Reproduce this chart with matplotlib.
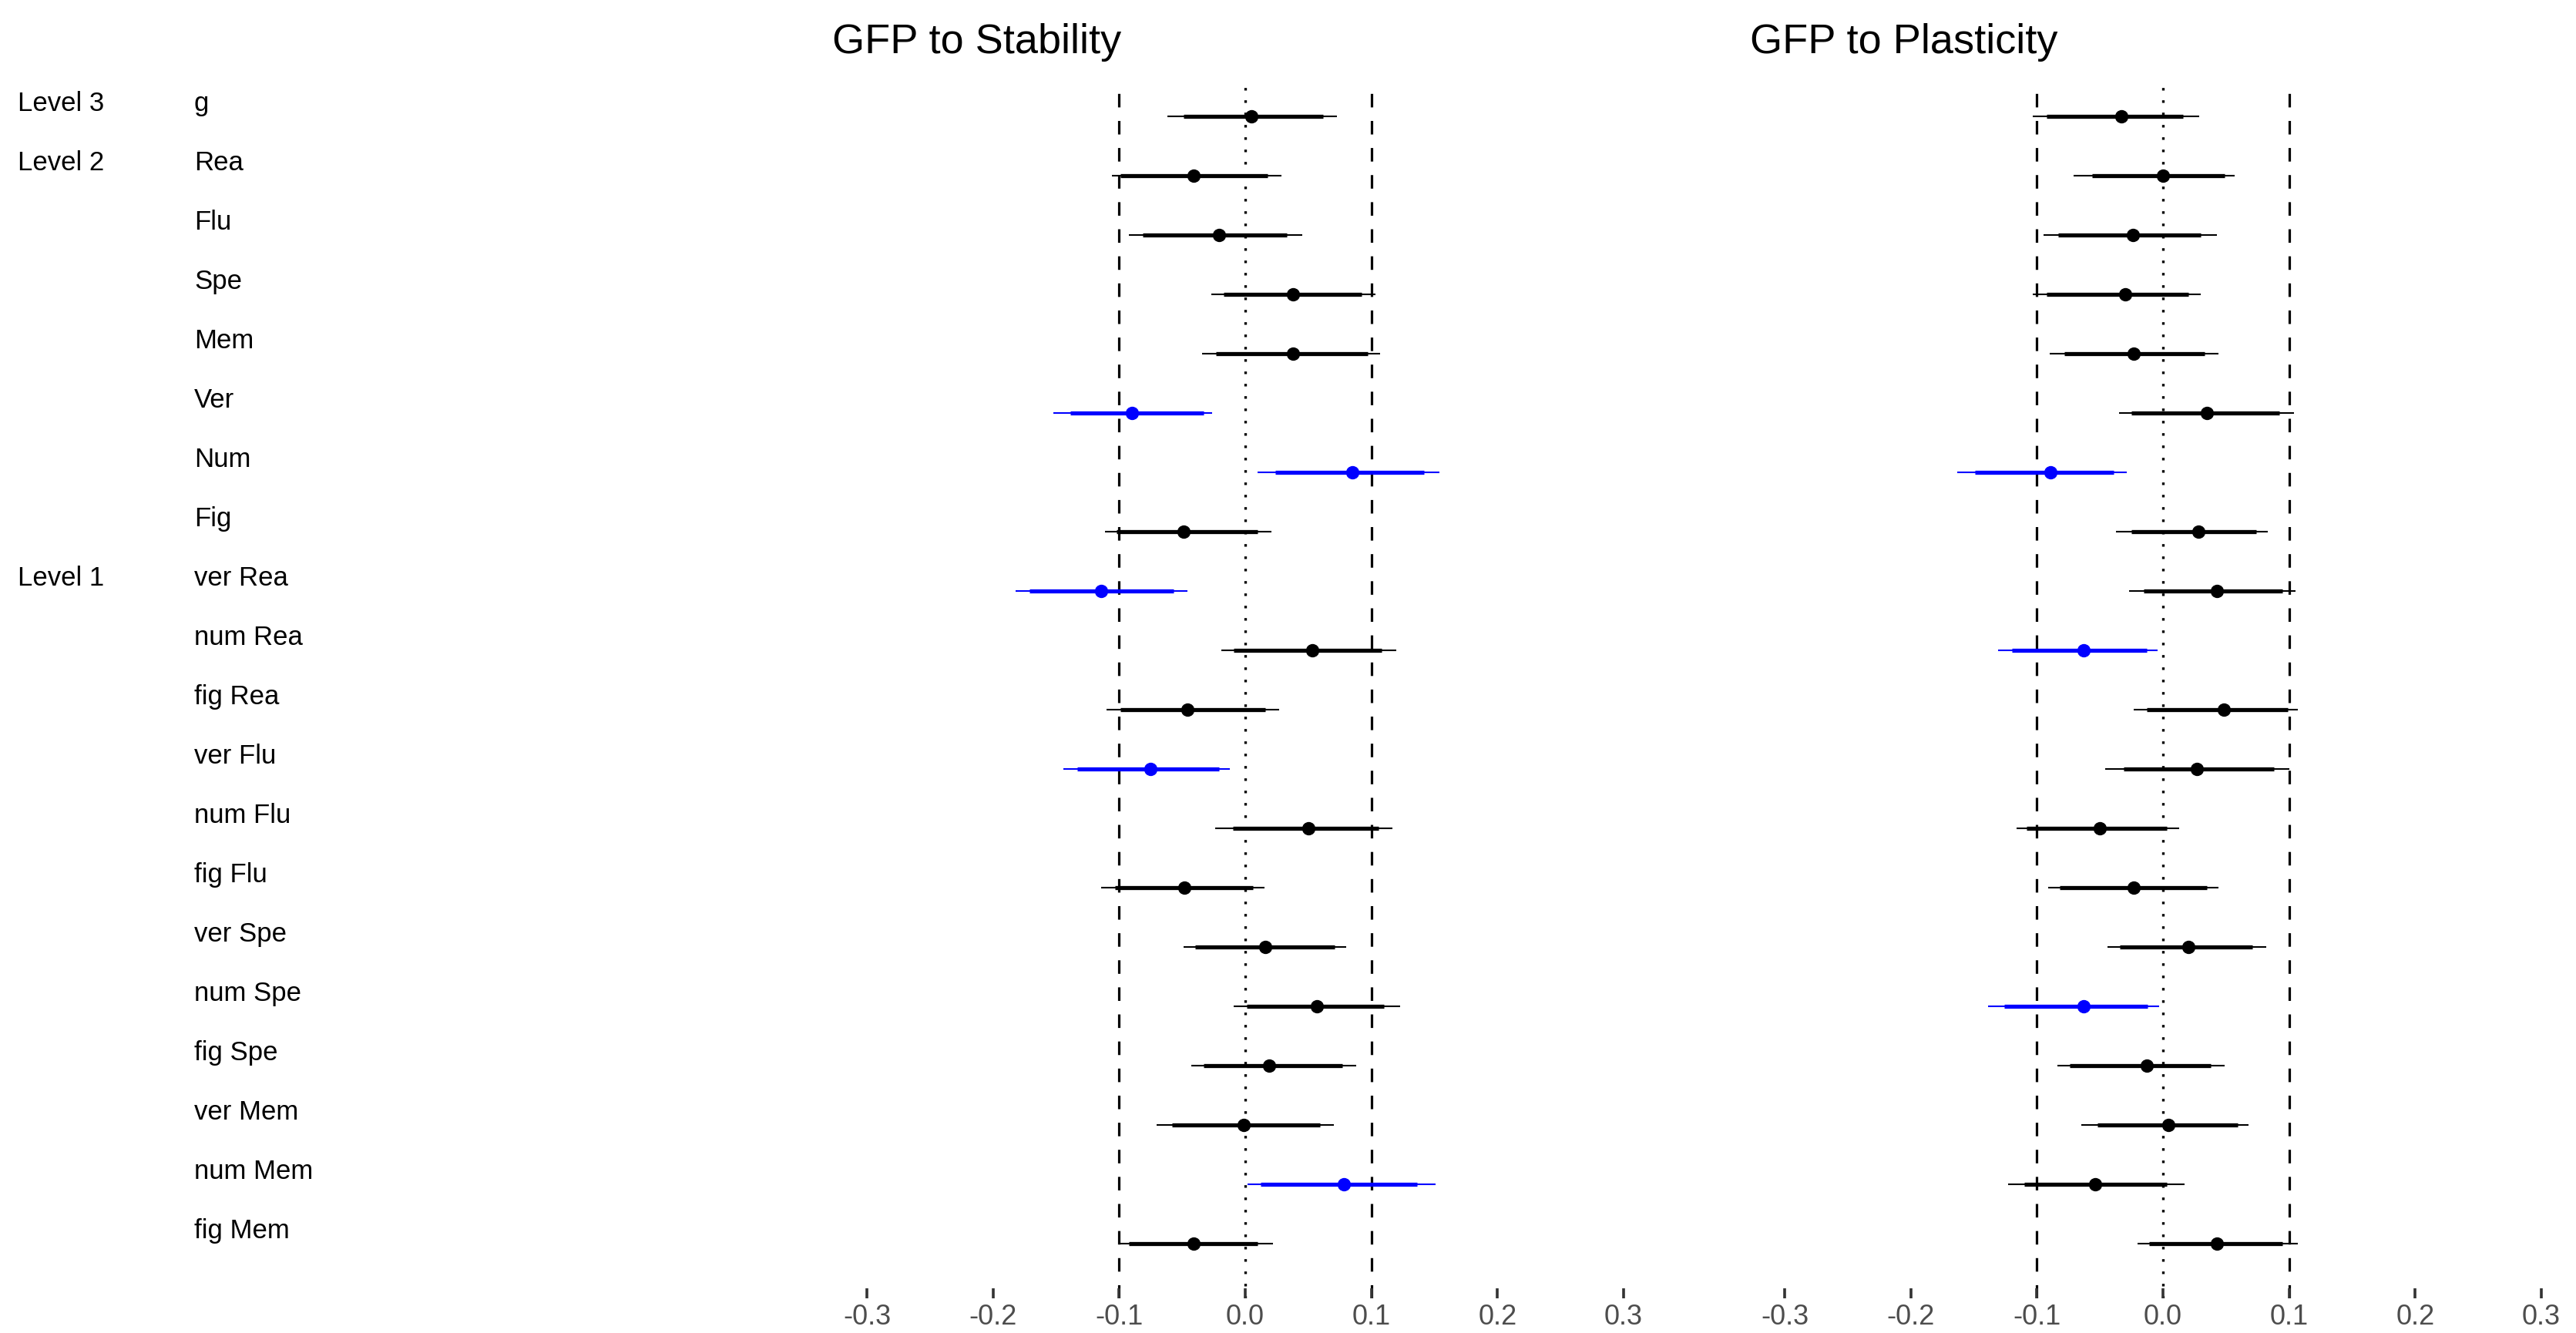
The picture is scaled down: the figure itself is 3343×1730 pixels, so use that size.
import matplotlib
matplotlib.use('Agg')
import matplotlib.pyplot as plt
from matplotlib.transforms import blended_transform_factory, ScaledTranslation

plt.rcParams['font.family'] = ['Liberation Sans', 'DejaVu Sans']

# rows, top to bottom
names = ['g', 'Rea', 'Flu', 'Spe', 'Mem', 'Ver', 'Num', 'Fig',
         'ver Rea', 'num Rea', 'fig Rea', 'ver Flu', 'num Flu', 'fig Flu',
         'ver Spe', 'num Spe', 'fig Spe', 'ver Mem', 'num Mem', 'fig Mem']
level_labels = {0: 'Level 3', 1: 'Level 2', 8: 'Level 1'}
ticks = [-0.3, -0.2, -0.1, 0.0, 0.1, 0.2, 0.3]
tick_labels = ['-0.3', '-0.2', '-0.1', '0.0', '0.1', '0.2', '0.3']

# GFP to Stability
stab_est = [0.005, -0.041, -0.021, 0.038, 0.038, -0.090, 0.085, -0.049, -0.114, 0.053,
            -0.046, -0.075, 0.050, -0.048, 0.016, 0.057, 0.019, -0.001, 0.078, -0.041]
stab_lo95 = [-0.062, -0.106, -0.092, -0.027, -0.034, -0.152, 0.010, -0.111, -0.182, -0.019,
             -0.110, -0.144, -0.024, -0.114, -0.049, -0.009, -0.043, -0.070, 0.002, -0.100]
stab_hi95 = [0.073, 0.029, 0.045, 0.103, 0.107, -0.026, 0.154, 0.021, -0.046, 0.120,
             0.027, -0.012, 0.117, 0.015, 0.080, 0.123, 0.088, 0.070, 0.151, 0.022]
stab_lo_in = [-0.049, -0.099, -0.081, -0.017, -0.023, -0.139, 0.024, -0.102, -0.171, -0.009,
              -0.099, -0.133, -0.010, -0.103, -0.040, 0.001, -0.033, -0.058, 0.012, -0.092]
stab_hi_in = [0.062, 0.018, 0.033, 0.092, 0.097, -0.033, 0.142, 0.010, -0.057, 0.108,
              0.016, -0.021, 0.106, 0.006, 0.071, 0.110, 0.077, 0.059, 0.136, 0.010]

# GFP to Plasticity
plas_est = [-0.033, 0.000, -0.024, -0.030, -0.023, 0.035, -0.089, 0.028, 0.043, -0.063,
            0.048, 0.027, -0.050, -0.023, 0.020, -0.063, -0.013, 0.004, -0.054, 0.043]
plas_lo95 = [-0.103, -0.071, -0.095, -0.103, -0.090, -0.035, -0.163, -0.037, -0.027, -0.131,
             -0.023, -0.046, -0.116, -0.091, -0.044, -0.139, -0.084, -0.065, -0.123, -0.020]
plas_hi95 = [0.029, 0.057, 0.043, 0.030, 0.044, 0.104, -0.029, 0.083, 0.105, -0.004,
             0.107, 0.100, 0.013, 0.044, 0.082, -0.003, 0.049, 0.068, 0.017, 0.107]
plas_lo_in = [-0.092, -0.056, -0.083, -0.092, -0.078, -0.025, -0.149, -0.025, -0.015, -0.120,
              -0.013, -0.031, -0.108, -0.082, -0.034, -0.126, -0.074, -0.052, -0.110, -0.011]
plas_hi_in = [0.016, 0.049, 0.030, 0.020, 0.033, 0.092, -0.039, 0.074, 0.095, -0.013,
              0.099, 0.088, 0.003, 0.035, 0.071, -0.012, 0.038, 0.059, 0.003, 0.095]

W, H = 3343, 1731
fig = plt.figure(figsize=(W / 100, H / 100), dpi=100)

ax_bottom, ax_top = 1686, 105
ax_w = 982
lefts = [1125, 2316]
axes = []
for left in lefts:
    ax = fig.add_axes([left / W, (H - ax_bottom) / H, ax_w / W, (ax_bottom - ax_top) / H])
    axes.append(ax)

panels = [
    ('GFP to Stability', stab_est, stab_lo95, stab_hi95, stab_lo_in, stab_hi_in),
    ('GFP to Plasticity', plas_est, plas_lo95, plas_hi95, plas_lo_in, plas_hi_in),
]

n = len(names)
for ax, left, (title, est, lo95, hi95, lo_in, hi_in) in zip(axes, lefts, panels):
    ax.set_xlim(-0.3, 0.3)
    ax.set_ylim(n - 1 + 0.92, -0.61)
    for s in ax.spines.values():
        s.set_visible(False)
    ax.set_yticks([])
    ax.set_xticks(ticks)
    ax.set_xticklabels(tick_labels)
    # ticks sit just above the bottom end of the reference lines
    ax.tick_params(axis='x', direction='in', length=9.5, width=2.6, color='#333333',
                   labelsize=26, labelcolor='#4D4D4D', pad=4)

    xt = ax.get_xaxis_transform()
    for xv in (-0.1, 0.1):
        ax.plot([xv, xv], [0, 1], transform=xt, color='black', lw=2.3,
                dashes=(5.5, 5.5), solid_capstyle='butt', dash_capstyle='butt', zorder=1)
    ax.plot([0, 0], [0, 1], transform=xt, color='black', lw=2.4,
            dashes=(1, 3.8), dash_capstyle='butt', zorder=1)

    for i in range(n):
        c = 'blue' if (lo95[i] > 0 or hi95[i] < 0) else 'black'
        ax.plot([lo95[i], hi95[i]], [i, i], color=c, lw=1.5, solid_capstyle='butt', zorder=2)
        ax.plot([lo_in[i], hi_in[i]], [i, i], color=c, lw=3.8, solid_capstyle='butt', zorder=3)
        ax.plot([est[i]], [i], 'o', color=c, ms=12.5, mew=0, zorder=4)

    fig.text((left - 45) / W, (H - 69) / H, title, fontsize=39, ha='left', va='baseline')

# row labels on the left
tr = blended_transform_factory(fig.transFigure, axes[0].transData) + \
    ScaledTranslation(0, 0.08, fig.dpi_scale_trans)
for i, name in enumerate(names):
    fig.text(252 / W, i, name, transform=tr, fontsize=25, ha='left', va='baseline')
    if i in level_labels:
        fig.text(23 / W, i, level_labels[i], transform=tr, fontsize=25, ha='left', va='baseline')

fig.savefig('out.png', dpi=100, facecolor='white')
